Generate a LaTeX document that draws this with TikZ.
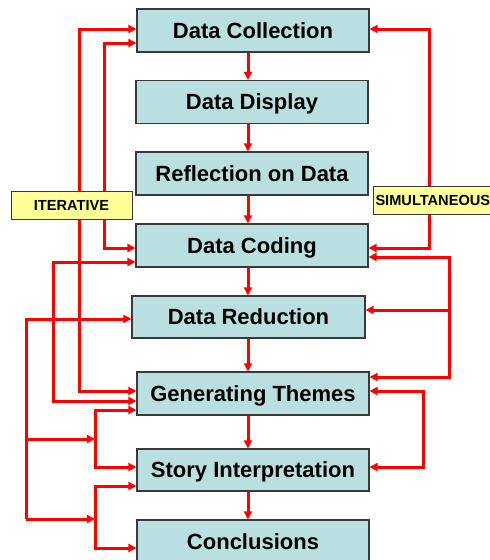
\documentclass[tikz,border=0pt]{standalone}
\usepackage{fontspec}
\setmainfont{Liberation Sans}
\usetikzlibrary{arrows.meta}
\definecolor{boxfill}{HTML}{B9DFE1}
\definecolor{boxline}{HTML}{3A3A3A}
\definecolor{labfill}{HTML}{FFFF99}
\definecolor{linkred}{HTML}{FF0000}
\tikzset{
  stage/.style={draw=boxline, line width=1.2pt, fill=boxfill, minimum width=232pt, minimum height=43pt, inner sep=0pt, text height=15.8pt, text depth=0pt, font=\fontsize{22}{26}\selectfont\bfseries},
  tag/.style={draw=boxline, line width=1pt, fill=labfill, minimum height=28pt, inner sep=2pt, text height=10.4pt, text depth=0pt, font=\fontsize{14.6}{17}\selectfont\bfseries},
  link/.style={draw=linkred, line width=3pt, line cap=butt, line join=miter, -{Triangle[length=8pt,width=8pt]}},
  both/.style={draw=linkred, line width=3pt, line join=miter, {Triangle[length=8pt,width=8pt]}-{Triangle[length=8pt,width=8pt]}},
  plain/.style={draw=linkred, line width=3pt, line join=miter}
}
\begin{document}
\begin{tikzpicture}[x=1pt,y=-1pt]
\useasboundingbox (0,0) rectangle (490,560);
\clip (0,0) rectangle (490,560);
% stages
\node[stage] (dc) at (253,30.5) {Data Collection};
\node[stage] (dd) at (252,102) {Data Display};
\node[stage] (rd) at (252,173.5) {Reflection on Data};
\node[stage] (dco) at (252,245.5) {Data Coding};
\node[stage, minimum width=233pt, minimum height=42pt] (dr) at (248.5,317) {Data Reduction};
\node[stage] (gt) at (253,393.5) {Generating Themes};
\node[stage, minimum height=42pt] (si) at (253,470) {Story Interpretation};
\node[stage] (co) at (253,541.5) {Conclusions};
% main flow
\coordinate (cx) at (248,0);
\draw[link] (dc.south -| cx) -- (dd.north -| cx);
\draw[link] (dd.south -| cx) -- (rd.north -| cx);
\draw[link] (rd.south -| cx) -- (dco.north -| cx);
\draw[link] (dco.south -| cx) -- (dr.north -| cx);
\draw[link] (dr.south -| cx) -- (gt.north -| cx);
\draw[link] (gt.south -| cx) -- (si.north -| cx);
\draw[link] (si.south -| cx) -- (co.north -| cx);
% left loops
\draw[both] (dc.west |- 0,29) -| (79,391) -- (gt.west |- 0,391);
\draw[both] (dc.west |- 0,43) -| (104,248) -- (dco.west |- 0,248);
\draw[both] (dco.west |- 0,262) -| (53,401) -- (gt.west |- 0,401);
\draw[both] (gt.west |- 0,410) -| (95,467) -- (si.west |- 0,467);
\draw[both] (si.west |- 0,486) -| (95,548) -- (co.west |- 0,548);
\coordinate (b1) at (95,439);
\coordinate (b2) at (95,519);
\draw[link] (26,519) |- (dr.west |- 0,319);
\draw[link] (26,439) -- (b1);
\draw[link] (26,519) -- (b2);
% right loops
\draw[both] (dc.east |- 0,29) -| (429,248) -- (dco.east |- 0,248);
\draw[both] (dco.east |- 0,257) -| (449,377) -- (gt.east |- 0,377);
\draw[link] (449,310) -- (dr.east |- 0,310);
\draw[both] (gt.east |- 0,391) -| (423,467) -- (si.east |- 0,467);
% tags
\node[tag, minimum width=121pt] (it) at (71.5,205) {ITERATIVE};
\node[tag, minimum width=127pt, anchor=west, text width=123pt, align=left] (sim) at (373,200) {SIMULTANEOUS};
\end{tikzpicture}
\end{document}
